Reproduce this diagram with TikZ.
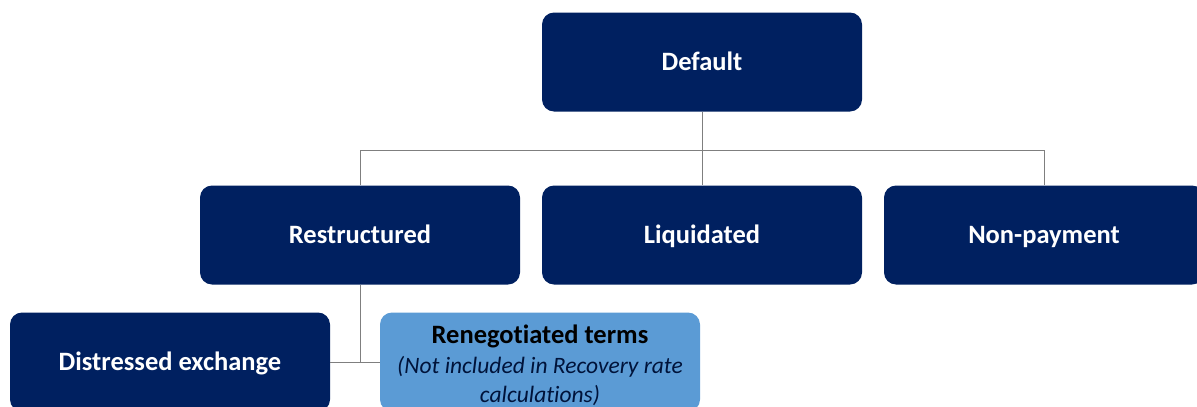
\documentclass[tikz,border=0pt]{standalone}
\usepackage{fontspec}
\setmainfont{Carlito}[Ligatures=NoCommon]
\usetikzlibrary{calc}
\definecolor{navy}{HTML}{002060}
\definecolor{paleblue}{HTML}{5B9BD5}
\definecolor{linegray}{HTML}{7F7F7F}
\newcommand{\notetext}[1]{{\fontsize{23.5}{29}\selectfont\mdseries\itshape\color{navy!60!black}#1}}
\tikzset{
	box/.style={rounded corners=12pt, minimum width=320pt, minimum height=99pt, inner sep=0pt, align=center, font=\fontsize{26.5}{30}\selectfont\bfseries},
	darkbox/.style={box, fill=navy, text=white, text height=17pt, text depth=0pt},
	lightbox/.style={box, fill=paleblue, text=black},
	conn/.style={draw=linegray, line width=0.8pt}
}

\begin{document}
\begin{tikzpicture}[x=1pt, y=-1pt]
		%%%%% START %%%%%
		
		\clip (0, 0) rectangle (1197, 407);
		
		\node[darkbox] (default) at (702, 62) {Default};
		
		\node[darkbox] (restr) at (360, 235) {Restructured};
		\node[darkbox] (liquid) at (702, 235) {Liquidated};
		\node[darkbox] (nonpay) at (1044, 235) {Non-payment};
		
		\node[darkbox] (distress) at (170, 362) {Distressed exchange};
		\node[lightbox] (reneg) at (540, 362) {\rule{0pt}{26pt}Renegotiated terms\\[0pt]
			\notetext{(Not included in Recovery rate}\\[-1pt]
			\notetext{calculations)}};
		
		\draw[conn] (default.south) -- (liquid.north);
		\draw[conn] (restr.north) -- ++(0, -35) -| (nonpay.north);
		
		\draw[conn] (restr.south) -- (restr.south |- distress.east);
		\draw[conn] (distress.east) -- (reneg.west);
		
		%%%%% END %%%%%
\end{tikzpicture}
\end{document}
